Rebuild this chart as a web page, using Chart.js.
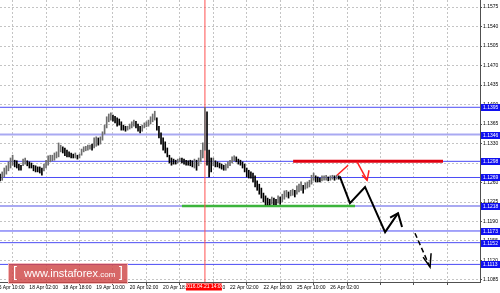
<!DOCTYPE html>
<html>
<head>
<meta charset="utf-8">
<script src="https://cdn.jsdelivr.net/npm/chart.js@4.4.0/dist/chart.umd.min.js"></script>
<style>
  html, body { margin: 0; padding: 0; background: #fff; }
</style>
</head>
<body>
<canvas id="chart" width="500" height="293"></canvas>
<script>
// EURUSD H1, bar index 0 = 15 Apr 10:00, one bar per hour
const firstBar = 2;
const highs = [
  1.1275, 1.1279, 1.1286, 1.1290, 1.1297, 1.1304, 1.1309, 1.1300, 1.1299, 1.1293,
  1.1291, 1.1302, 1.1304, 1.1299, 1.1297, 1.1295, 1.1291, 1.1290, 1.1288, 1.1288,
  1.1286, 1.1293, 1.1300, 1.1308, 1.1309, 1.1309, 1.1313, 1.1315, 1.1331, 1.1327,
  1.1324, 1.1322, 1.1318, 1.1315, 1.1313, 1.1311, 1.1313, 1.1309, 1.1311, 1.1320,
  1.1324, 1.1325, 1.1327, 1.1327, 1.1329, 1.1340, 1.1342, 1.1340, 1.1342, 1.1351,
  1.1363, 1.1378, 1.1383, 1.1385, 1.1381, 1.1379, 1.1376, 1.1374, 1.1369, 1.1363,
  1.1361, 1.1361, 1.1365, 1.1369, 1.1372, 1.1370, 1.1365, 1.1361, 1.1363, 1.1367,
  1.1369, 1.1372, 1.1378, 1.1383, 1.1388, 1.1376, 1.1361, 1.1349, 1.1340, 1.1333,
  1.1322, 1.1309, 1.1304, 1.1302, 1.1300, 1.1302, 1.1304, 1.1304, 1.1302, 1.1300,
  1.1299, 1.1300, 1.1299, 1.1302, 1.1300, 1.1304, 1.1318, 1.1331, 1.1395, 1.1387,
  1.1318, 1.1304, 1.1304, 1.1299, 1.1297, 1.1295, 1.1293, 1.1291, 1.1293, 1.1297,
  1.1300, 1.1306, 1.1308, 1.1306, 1.1302, 1.1300, 1.1297, 1.1293, 1.1286, 1.1282,
  1.1279, 1.1277, 1.1272, 1.1263, 1.1257, 1.1250, 1.1241, 1.1236, 1.1232, 1.1230,
  1.1234, 1.1232, 1.1230, 1.1236, 1.1234, 1.1239, 1.1245, 1.1246, 1.1243, 1.1246,
  1.1248, 1.1246, 1.1254, 1.1257, 1.1261, 1.1255, 1.1259, 1.1261, 1.1264, 1.1273,
  1.1277, 1.1272, 1.1270, 1.1268, 1.1272, 1.1272, 1.1273, 1.1270, 1.1272, 1.1273,
  1.1272, 1.1273, 1.1272
];
const lows = [
  1.1263, 1.1264, 1.1270, 1.1275, 1.1281, 1.1286, 1.1291, 1.1288, 1.1286, 1.1282,
  1.1282, 1.1290, 1.1293, 1.1290, 1.1286, 1.1286, 1.1281, 1.1279, 1.1279, 1.1277,
  1.1273, 1.1281, 1.1286, 1.1291, 1.1297, 1.1299, 1.1300, 1.1304, 1.1306, 1.1315,
  1.1313, 1.1308, 1.1306, 1.1306, 1.1304, 1.1304, 1.1304, 1.1302, 1.1304, 1.1309,
  1.1315, 1.1317, 1.1318, 1.1320, 1.1318, 1.1322, 1.1325, 1.1327, 1.1329, 1.1336,
  1.1347, 1.1358, 1.1369, 1.1372, 1.1370, 1.1367, 1.1361, 1.1363, 1.1354, 1.1354,
  1.1352, 1.1354, 1.1356, 1.1358, 1.1361, 1.1358, 1.1352, 1.1349, 1.1352, 1.1358,
  1.1360, 1.1361, 1.1365, 1.1369, 1.1372, 1.1354, 1.1340, 1.1329, 1.1318, 1.1313,
  1.1306, 1.1295, 1.1291, 1.1293, 1.1293, 1.1295, 1.1297, 1.1295, 1.1293, 1.1291,
  1.1291, 1.1290, 1.1288, 1.1286, 1.1282, 1.1290, 1.1297, 1.1304, 1.1318, 1.1291,
  1.1270, 1.1279, 1.1290, 1.1288, 1.1288, 1.1286, 1.1284, 1.1282, 1.1282, 1.1286,
  1.1290, 1.1295, 1.1299, 1.1297, 1.1293, 1.1291, 1.1286, 1.1279, 1.1270, 1.1268,
  1.1268, 1.1261, 1.1252, 1.1246, 1.1239, 1.1232, 1.1225, 1.1220, 1.1220, 1.1220,
  1.1221, 1.1220, 1.1220, 1.1223, 1.1221, 1.1225, 1.1230, 1.1234, 1.1232, 1.1236,
  1.1237, 1.1234, 1.1239, 1.1243, 1.1246, 1.1241, 1.1248, 1.1250, 1.1252, 1.1257,
  1.1264, 1.1261, 1.1261, 1.1261, 1.1263, 1.1264, 1.1264, 1.1263, 1.1264, 1.1266,
  1.1264, 1.1266, 1.1266
];

// one label every 16 bars
const dateLabels = [
  '15 Apr 10:00', '18 Apr 02:00', '18 Apr 18:00', '19 Apr 10:00', '20 Apr 02:00',
  '20 Apr 18:00', '21 Apr 10:00', '22 Apr 02:00', '22 Apr 18:00', '25 Apr 10:00',
  '26 Apr 02:00'
];
const priceTicks = [
  '1.1085', '1.1120', '1.1155', '1.1190', '1.1225', '1.1260', '1.1295', '1.1330',
  '1.1365', '1.1400', '1.1435', '1.1470', '1.1505', '1.1540', '1.1575'
];

// analyst levels
const levels = [1.1395, 1.1346, 1.1298, 1.1269, 1.1218, 1.1173, 1.1152, 1.1113];
const levelLabels = ['1.1395', '1.1346', '1.1298', '1.1269', '1.1218', '1.1173', '1.1152', '1.1113'];
const lightLevels = [1.1346, 1.1218];

const markerBar = 100;
const markerLabel = '2016.04.21 14:00';

const resistX = [142.2, 213.9], resistY = [1.1298, 1.1298];
const supportX = [89.0, 171.8], supportY = [1.1218, 1.1218];

// forecast arrows
const pathX = [164.5, 169.4, 176.6, 186.2, 192.4];
const pathY = [1.1271, 1.1223, 1.1252, 1.1171, 1.1205];
const pathHeadX = [188.6, 192.4, 194.3];
const pathHeadY = [1.1197, 1.1205, 1.1180];
const dashX = [200.5, 207.7];
const dashY = [1.1169, 1.1108];
const dashHeadX = [204.4, 207.7, 208.2];
const dashHeadY = [1.1126, 1.1108, 1.1133];
const redUpX = [163.2, 168.5], redUpY = [1.1273, 1.1291];
const redDownX = [172.8, 177.6], redDownY = [1.1297, 1.1264];
const redHeadX = [175.2, 177.6, 178.5], redHeadY = [1.1273, 1.1264, 1.1282];

const xMin = 1.96, xMax = 231.6;
const yMin = 1.10814, yMax = 1.15876;

const pts = (xs, ys) => xs.map((x, k) => ({ x: x, y: ys[k] }));

const barData = highs.map((h, k) => ({ x: firstBar + k, y: [lows[k], h] }));
const barColors = highs.map((h, k) => {
  if (k === 0) return '#000';
  const mid = (h + lows[k]) / 2, prev = (highs[k - 1] + lows[k - 1]) / 2;
  return mid > prev ? '#6e6e6e' : '#000';
});

const lineSet = (data, color, width, extra) => Object.assign({
  type: 'line', data: data, borderColor: color, borderWidth: width,
  pointRadius: 0, fill: false, tension: 0, order: 0
}, extra || {});

const datasets = [
  {
    type: 'bar', data: barData, backgroundColor: barColors,
    barThickness: 1, borderWidth: 0, grouped: false, order: 1
  }
];
levels.forEach(v => {
  const light = lightLevels.includes(v);
  datasets.push(lineSet(pts([xMin, xMax], [v, v]), light ? '#a9a9f2' : '#4b4bf5', light ? 2 : 1, { order: 3 }));
});
datasets.push(lineSet(pts([markerBar, markerBar], [yMin, yMax]), '#ff5050', 1, { order: 2 }));
datasets.push(lineSet(pts(supportX, supportY), '#3cb43c', 2.5, { order: 2 }));
datasets.push(lineSet(pts(resistX, resistY), '#e00010', 3, { order: 2 }));
datasets.push(lineSet(pts(pathX, pathY), '#000', 2));
datasets.push(lineSet(pts(pathHeadX, pathHeadY), '#000', 2));
datasets.push(lineSet(pts(dashX, dashY), '#000', 1.5, { borderDash: [5, 3] }));
datasets.push(lineSet(pts(dashHeadX, dashHeadY), '#000', 1.5));
datasets.push(lineSet(pts(redUpX, redUpY), '#ff2020', 1.5));
datasets.push(lineSet(pts(redDownX, redDownY), '#ff2020', 1.5));
datasets.push(lineSet(pts(redHeadX, redHeadY), '#ff2020', 1.5));

const tickFont = { family: 'Liberation Sans, Arial, sans-serif', size: 5 };

const overlays = {
  id: 'overlays',
  afterDraw(chart) {
    const ctx = chart.ctx;
    const xs = chart.scales.x, ys = chart.scales.y;
    ctx.save();
    ctx.font = '5px "Liberation Sans", Arial, sans-serif';
    ctx.textBaseline = 'middle';

    // level price boxes on the right axis
    levels.forEach((v, k) => {
      const y = Math.round(ys.getPixelForValue(v));
      ctx.fillStyle = '#1010f0';
      ctx.fillRect(xs.right + 1, y - 3, 20, 7);
      ctx.fillStyle = '#fff';
      ctx.textAlign = 'left';
      ctx.fillText(levelLabels[k], xs.right + 3, y + 0.5);
    });

    // red crosshair time label
    const mx = xs.getPixelForValue(markerBar);
    ctx.fillStyle = '#ff0000';
    ctx.fillRect(mx - 19, ys.bottom + 1.5, 36, 7);
    ctx.fillStyle = '#fff';
    ctx.textAlign = 'center';
    ctx.fillText(markerLabel, mx - 1, ys.bottom + 5);

    // watermark
    ctx.fillStyle = 'rgba(206, 70, 70, 0.82)';
    ctx.fillRect(8, 263, 120, 21);
    ctx.strokeStyle = 'rgba(255, 210, 210, 0.8)';
    ctx.lineWidth = 1;
    ctx.strokeRect(8.5, 263.5, 119, 20);
    ctx.fillStyle = '#fff';
    ctx.textAlign = 'left';
    ctx.font = '14px "Liberation Sans", Arial, sans-serif';
    ctx.fillText('[', 13, 273.5);
    ctx.fillText(']', 119, 273.5);
    ctx.font = '11px "Liberation Sans", Arial, sans-serif';
    ctx.fillText('www.instaforex', 24, 274);
    const w = ctx.measureText('www.instaforex').width;
    ctx.font = '8px "Liberation Sans", Arial, sans-serif';
    ctx.fillText('.com', 24 + w, 275);
    ctx.restore();
  }
};

new Chart(document.getElementById('chart'), {
  data: { datasets: datasets },
  options: {
    responsive: false,
    animation: false,
    layout: { padding: 0 },
    plugins: { legend: { display: false }, tooltip: { enabled: false } },
    scales: {
      x: {
        type: 'linear', min: xMin, max: xMax, offset: false,
        afterBuildTicks: s => { s.ticks = []; for (let k = 0; k <= 14; k++) s.ticks.push({ value: k * 16 }); },
        afterFit: s => { s.height = 11; s.paddingLeft = 0; s.paddingRight = 0; },
        ticks: {
          autoSkip: false, maxRotation: 0, align: 'start', padding: 0,
          color: '#000', font: tickFont,
          callback: v => dateLabels[Math.round(v / 16)] || ''
        },
        grid: { color: '#c4c4c4', tickLength: 3, tickColor: '#505050', tickBorderDash: [] },
        border: { display: true, color: '#505050', width: 1, dash: [2, 2] }
      },
      y: {
        type: 'linear', position: 'right', min: yMin, max: yMax,
        afterBuildTicks: s => { s.ticks = priceTicks.map(t => ({ value: parseFloat(t) })); },
        afterFit: s => { s.width = 20; s.paddingTop = 0; s.paddingBottom = 0; },
        ticks: {
          padding: 1, color: '#000', font: tickFont,
          callback: v => v.toFixed(4)
        },
        grid: { color: '#c4c4c4', tickLength: 2, tickColor: '#505050', tickBorderDash: [] },
        border: { display: true, color: '#505050', width: 1, dash: [2, 2] }
      }
    }
  },
  plugins: [overlays]
});
</script>
</body>
</html>
